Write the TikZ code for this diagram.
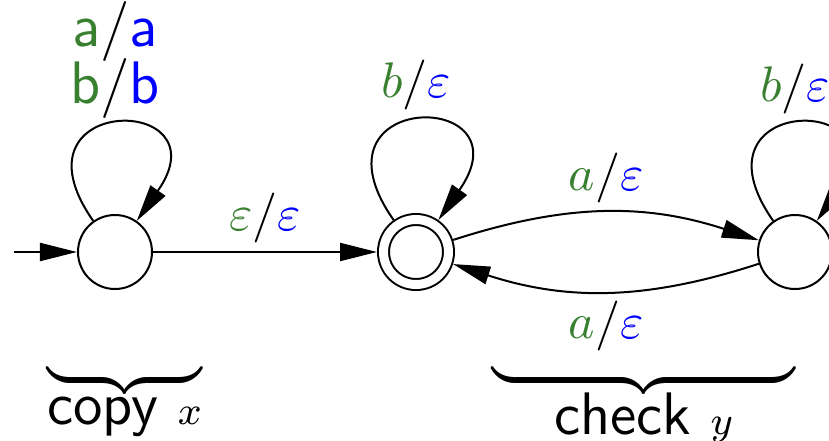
\documentclass[tikz,border=0pt]{standalone}
\usepackage{amsmath}
\usepackage{xcolor}
\definecolor{ingreen}{rgb}{0.22,0.5,0.19}
\definecolor{outblue}{rgb}{0,0,1}
\usepackage{tikz}
\usetikzlibrary{arrows.meta, positioning}

\newcommand{\io}[2]{\textcolor{ingreen}{#1}/\textcolor{outblue}{#2}}

\begin{document}
\begin{tikzpicture}[
    state/.style={circle, draw, on grid, minimum size=14.8pt, inner sep=0pt},
    accept/.style={state, minimum size=13pt, double, double distance=1.8pt, outer sep=1.3pt},
    arr/.style={-{Triangle[length=7.4pt, width=3.6pt]}},
    lab/.style={inner sep=1.6pt},
    selfloop/.style={out=125, in=55, looseness=9.2},
    brc/.style={inner sep=0pt, text depth=5.4pt},
    part/.style={inner sep=0pt, font=\large\sffamily}
]
\useasboundingbox (-23pt,-37.8pt) rectangle (142.8pt,50.4pt);
\clip (-23pt,-37.8pt) rectangle (142.8pt,50.4pt);

\node[state] (q0) {};
\node[accept, right=60.2pt of q0] (q1) {};
\node[state, right=75.8pt of q1] (q2) {};
\coordinate[left=12.6pt of q0] (init);

\draw[arr] (init) -- (q0);
\draw[arr] (q0) to[selfloop] node[lab, above, align=center, font=\large\sffamily, inner sep=1pt]{\io{a}{a}\\[-2.5pt]\io{b}{b}} (q0);
\draw[arr] (q0) -- node[lab, above]{$\io{\varepsilon}{\varepsilon}$} (q1);
\draw[arr] (q1) to[selfloop] node[lab, above, inner sep=2pt]{$\io{b}{\varepsilon}$} (q1);
\draw[arr] (q1) to[bend left=18] node[lab, above]{$\io{a}{\varepsilon}$} (q2);
\draw[arr] (q2) to[bend left=18] node[lab, below]{$\io{a}{\varepsilon}$} (q1);
\draw[arr] (q2) to[selfloop] node[lab, above, inner sep=2pt]{$\io{b}{\varepsilon}$} (q2);

% braces under the two parts
\node[brc, below=14.2pt of q0, xshift=1.9pt] (copybr) {$\underbrace{\hspace{31pt}}$};
\node[part, below=1.2pt of copybr] (copylbl) {copy\ {\footnotesize$x$}};
\node[brc, below=14.2pt of q2, xshift=-30.3pt] (checkbr) {$\underbrace{\hspace{60.6pt}}$};
\node[part, below=0.3pt of checkbr] (checklbl) {check\ {\footnotesize$y$}};
\end{tikzpicture}
\end{document}
